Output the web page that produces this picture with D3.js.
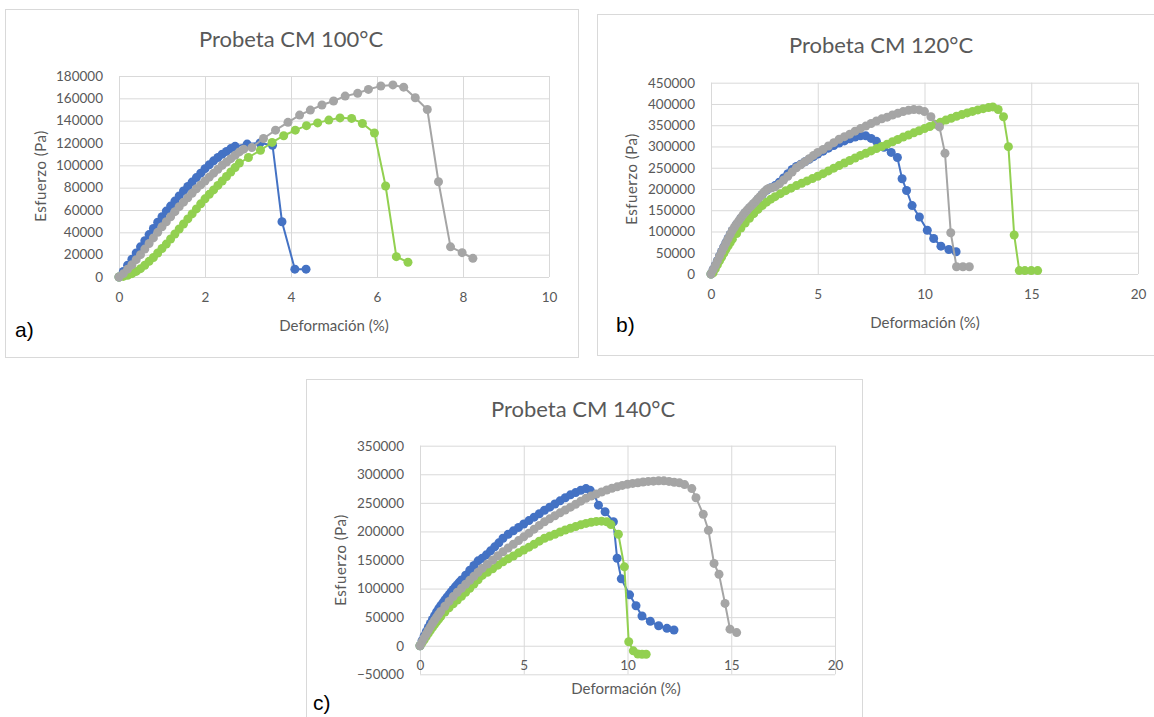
<!DOCTYPE html>
<html>
<head>
<meta charset="utf-8">
<script src="https://cdn.jsdelivr.net/npm/d3@7"></script>
<style>
  body { margin: 0; background: #fff; }
  svg { display: block; }
</style>
</head>
<body>
<svg width="1154" height="717"></svg>
<script>
'use strict';

// tick values
const xTicksA = [0, 2, 4, 6, 8, 10];
const yTicksA = [0, 20000, 40000, 60000, 80000, 100000, 120000, 140000, 160000, 180000];
const xTicksB = [0, 5, 10, 15, 20];
const yTicksB = [0, 50000, 100000, 150000, 200000, 250000, 300000, 350000, 400000, 450000];
const xTicksC = [0, 5, 10, 15, 20];
const yTicksC = [-50000, 0, 50000, 100000, 150000, 200000, 250000, 300000, 350000];

// Probeta CM 100°C  [deformación %, esfuerzo Pa]
const a100Blue = [[0,0],[0.1,5000],[0.2,10500],[0.3,16000],[0.4,21500],[0.5,27000],[0.6,32500],[0.7,38000],
  [0.8,43500],[0.9,49000],[1.0,54000],[1.1,59000],[1.2,63500],[1.3,68000],[1.4,72500],[1.5,77000],[1.6,81000],
  [1.7,85000],[1.8,89000],[1.9,93000],[2.0,97000],[2.1,100500],[2.2,104000],[2.3,107000],[2.4,110000],
  [2.5,112500],[2.6,115000],[2.7,117000],[2.98,119000],[3.28,120000],[3.57,118000],[3.79,49500],[4.09,7000],[4.35,7000]];
const a100Green = [[0,0],[0.1,500],[0.2,1500],[0.3,3000],[0.4,5000],[0.5,7500],[0.6,10500],[0.7,14000],[0.8,17500],
  [0.9,21500],[1.0,25500],[1.1,29500],[1.2,34000],[1.3,38500],[1.4,43000],[1.5,47500],[1.6,52000],[1.7,56500],
  [1.8,61000],[1.9,65500],[2.0,70000],[2.1,74000],[2.2,78000],[2.3,82000],[2.4,86000],[2.5,90000],[2.6,94000],
  [2.7,98000],[2.8,102000],[3.01,107000],[3.29,113500],[3.56,120500],[3.83,126500],[4.1,131500],[4.36,135500],
  [4.62,138000],[4.88,140500],[5.14,142500],[5.41,142000],[5.66,137500],[5.94,129000],[6.2,81500],[6.45,18200],[6.72,13200]];
const a100Gray = [[0,0],[0.1,3000],[0.2,7000],[0.3,11000],[0.4,15500],[0.5,20000],[0.6,25000],[0.7,30000],[0.8,35000],
  [0.9,40000],[1.0,45000],[1.1,49500],[1.2,54000],[1.3,58500],[1.4,63000],[1.5,67000],[1.6,71000],[1.7,75000],
  [1.8,79000],[1.9,82500],[2.0,86000],[2.1,89500],[2.2,93000],[2.3,96500],[2.4,100000],[2.5,103000],[2.6,106000],
  [2.7,109000],[2.8,112000],[2.9,114500],[3.09,116000],[3.36,124000],[3.64,131500],[3.93,138500],[4.2,145000],
  [4.45,149500],[4.72,154000],[4.99,157600],[5.26,162000],[5.55,164500],[5.8,168000],[6.09,171000],[6.37,172000],
  [6.62,170000],[6.89,160500],[7.17,150000],[7.43,85300],[7.71,27000],[7.98,21800],[8.23,16700]];

// Probeta CM 120°C
const b120Blue = [[0,0],[0.1,10000],[0.2,20500],[0.3,31500],[0.4,42500],[0.5,53000],[0.6,63500],[0.7,73500],
  [0.8,83500],[0.9,93000],[1.0,102500],[1.2,117000],[1.4,131000],[1.6,144000],[1.8,155000],[2.0,165000],
  [2.2,176000],[2.4,187000],[2.6,197000],[2.8,203000],[3.0,208000],[3.2,216000],[3.4,226000],[3.6,236000],
  [3.8,246000],[4.0,253000],[4.2,258000],[4.4,264000],[4.6,270000],[4.8,276000],[5.0,282000],[5.25,289000],
  [5.5,296000],[5.75,302000],[6.0,308000],[6.25,313000],[6.5,318000],[6.75,322000],[7.0,325000],[7.25,325000],
  [7.5,319000],[7.75,312000],[8.1,298000],[8.44,286000],[8.73,274000],[8.95,224000],[9.16,196500],[9.42,161000],
  [9.76,134000],[10.13,103000],[10.43,83400],[10.77,65500],[11.14,57700],[11.48,52300]];
const b120Green = [[0,0],[0.1,3000],[0.2,12000],[0.3,21500],[0.4,31000],[0.5,40000],[0.6,49000],[0.7,58000],
  [0.8,66000],[0.9,74000],[1.0,82000],[1.2,95000],[1.4,108000],[1.6,120000],[1.8,131000],[2.0,142000],
  [2.2,152000],[2.4,161000],[2.6,169000],[2.8,176000],[3.0,182000],[3.25,189000],[3.5,196000],[3.75,202000],
  [4.0,208000],[4.25,213500],[4.5,219000],[4.75,224500],[5.0,230000],[5.25,236000],[5.5,242500],[5.75,249000],
  [6.0,255000],[6.25,261000],[6.5,267000],[6.75,273000],[7.0,279000],[7.25,284000],[7.5,289500],[7.75,295000],
  [8.0,300000],[8.25,305500],[8.5,311000],[8.75,316500],[9.0,322000],[9.25,327000],[9.5,332000],[9.75,337000],
  [10.0,342000],[10.25,347000],[10.5,352000],[10.75,357000],[11.0,362000],[11.25,366500],[11.5,371000],
  [11.75,375000],[12.0,379000],[12.25,382500],[12.5,386000],[12.75,389000],[13.0,391500],[13.2,393000],
  [13.45,387000],[13.7,370000],[13.93,299500],[14.2,91700],[14.44,8000],[14.7,8000],[15.0,8000],[15.3,8000]];
const b120Gray = [[0,0],[0.1,10000],[0.2,20000],[0.3,31000],[0.4,42000],[0.5,52500],[0.6,63000],[0.7,73000],
  [0.8,83000],[0.9,93000],[1.0,103000],[1.1,110500],[1.2,118000],[1.3,125000],[1.4,132000],[1.5,139000],
  [1.6,145000],[1.7,150500],[1.8,156000],[1.9,161000],[2.0,166000],[2.1,171500],[2.2,177000],[2.3,182500],
  [2.4,188000],[2.5,193500],[2.6,198000],[2.7,201000],[2.85,203000],[3.0,205000],[3.2,212000],[3.4,221000],
  [3.6,230000],[3.8,240000],[4.0,250000],[4.2,257000],[4.4,264000],[4.6,271000],[4.8,279000],[5.0,286000],
  [5.25,293000],[5.5,301000],[5.75,309000],[6.0,317000],[6.25,323000],[6.5,329000],[6.75,336000],[7.0,342000],
  [7.25,348000],[7.5,354000],[7.75,360000],[8.0,365000],[8.25,369000],[8.5,374000],[8.75,378000],[9.0,382000],
  [9.25,385000],[9.5,387000],[9.75,386000],[10.0,382000],[10.3,370000],[10.7,346000],[10.96,284000],
  [11.23,97000],[11.5,17000],[11.8,17000],[12.1,17000]];

// Probeta CM 140°C
const c140Blue = [[0,0],[0.1,9000],[0.2,17000],[0.3,24500],[0.4,32000],[0.5,39000],[0.6,46000],[0.7,52500],
  [0.8,59000],[0.9,65000],[1.0,70000],[1.1,75000],[1.2,80000],[1.3,85000],[1.4,89500],[1.5,94000],[1.6,98500],
  [1.7,103000],[1.8,107000],[1.9,111000],[2.0,115000],[2.2,123500],[2.4,132000],[2.6,140500],[2.8,148500],
  [3.0,153000],[3.2,159000],[3.4,166000],[3.6,173000],[3.8,180000],[4.0,188000],[4.25,195000],[4.5,201000],
  [4.75,207000],[5.0,213000],[5.25,219000],[5.5,225000],[5.75,231000],[6.0,237000],[6.25,242500],[6.5,248000],
  [6.75,253500],[7.0,259000],[7.25,264000],[7.5,268000],[7.75,272000],[8.0,275000],[8.2,272000],[8.4,265000],
  [8.6,246000],[8.92,234500],[9.32,217000],[9.5,153000],[9.7,117000],[10.1,89000],[10.41,70000],[10.7,52000],
  [11.1,42700],[11.5,35000],[11.9,30400],[12.24,27500]];
const c140Green = [[0,0],[0.1,5000],[0.2,10500],[0.3,16000],[0.4,21500],[0.5,27000],[0.6,32000],[0.7,37000],
  [0.8,42000],[0.9,46500],[1.0,51000],[1.2,59000],[1.4,66500],[1.6,73500],[1.8,80000],[2.0,86500],[2.2,93500],
  [2.4,100500],[2.6,108000],[2.8,115500],[3.0,123000],[3.25,128500],[3.5,134500],[3.75,141000],[4.0,147000],
  [4.25,152000],[4.5,157000],[4.75,162500],[5.0,167500],[5.25,172500],[5.5,177500],[5.75,183000],[6.0,188000],
  [6.25,191500],[6.5,195000],[6.75,199000],[7.0,202500],[7.25,205500],[7.5,208500],[7.75,211500],[8.0,214000],
  [8.25,216000],[8.5,217500],[8.75,218000],[9.0,217000],[9.2,212000],[9.56,195000],[9.85,138000],[10.06,7000],
  [10.28,-9000],[10.5,-14500],[10.7,-15000],[10.9,-15000]];
const c140Gray = [[0,0],[0.1,7000],[0.2,14000],[0.3,20500],[0.4,27000],[0.5,33000],[0.6,39000],[0.7,44500],
  [0.8,50000],[0.9,55000],[1.0,60000],[1.2,69000],[1.4,77500],[1.6,86000],[1.8,93500],[2.0,100500],[2.2,107500],
  [2.4,114500],[2.6,121500],[2.8,128500],[3.0,135500],[3.25,143000],[3.5,150000],[3.75,157500],[4.0,164500],
  [4.25,171000],[4.5,177500],[4.75,184000],[5.0,190500],[5.25,197000],[5.5,204000],[5.75,210500],[6.0,217000],
  [6.25,222000],[6.5,227500],[6.75,232500],[7.0,237500],[7.25,242500],[7.5,247500],[7.75,253000],[8.0,258000],
  [8.25,262000],[8.5,265500],[8.75,269000],[9.0,272500],[9.25,275500],[9.5,278000],[9.75,280500],[10.0,282500],
  [10.25,284000],[10.5,285000],[10.75,286500],[11.0,287500],[11.25,288000],[11.5,288500],[11.75,288500],
  [12.0,287500],[12.25,286000],[12.5,285000],[12.75,282000],[13.1,275000],[13.3,259000],[13.65,230000],
  [13.9,202000],[14.17,144000],[14.41,125000],[14.7,74000],[14.94,29000],[15.26,23000]];

const BLUE = '#4472C4';
const GREEN = '#92D050';
const GRAY = '#A5A5A5';
const GRID = '#D9D9D9';
const TEXT = '#595959';
const FONT = 'Lato, "Open Sans", sans-serif';

const panels = [
  {
    box: [5, 9, 578, 357], plot: { left: 119, right: 549, top: 76, bottom: 277 },
    xDomain: [0, 10], yDomain: [0, 180000], xTicks: xTicksA, yTicks: yTicksA,
    title: 'Probeta CM 100°C', titleX: 291, titleY: 47,
    tag: 'a)', tagX: 15, tagY: 330,
    xTitleX: 334, xTitleY: 326, yTitleX: 41, yTitleY: 176,
    series: [[a100Blue, BLUE], [a100Green, GREEN], [a100Gray, GRAY]]
  },
  {
    box: [597, 14, 1170, 355], plot: { left: 711, right: 1138, top: 82.7, bottom: 274 },
    xDomain: [0, 20], yDomain: [0, 450000], xTicks: xTicksB, yTicks: yTicksB,
    title: 'Probeta CM 120°C', titleX: 881, titleY: 53,
    tag: 'b)', tagX: 616, tagY: 325,
    xTitleX: 925, xTitleY: 323, yTitleX: 632, yTitleY: 179,
    series: [[b120Blue, BLUE], [b120Green, GREEN], [b120Gray, GRAY]]
  },
  {
    box: [306, 379, 862, 730], plot: { left: 420, right: 835, top: 445.7, bottom: 674.3 },
    xDomain: [0, 20], yDomain: [-50000, 350000], xTicks: xTicksC, yTicks: yTicksC,
    title: 'Probeta CM 140°C', titleX: 583, titleY: 417,
    tag: 'c)', tagX: 313, tagY: 703,
    xTitleX: 626, xTitleY: 689, yTitleX: 341, yTitleY: 560,
    series: [[c140Blue, BLUE], [c140Green, GREEN], [c140Gray, GRAY]]
  }
];

const svg = d3.select('svg');
svg.append('rect').attr('width', 1154).attr('height', 717).attr('fill', '#fff');

for (const p of panels) {
  const g = svg.append('g');
  const [bx0, by0, bx1, by1] = p.box;
  g.append('rect')
    .attr('x', bx0 + 0.5).attr('y', by0 + 0.5)
    .attr('width', bx1 - bx0).attr('height', by1 - by0)
    .attr('fill', '#fff').attr('stroke', GRID);

  const x = d3.scaleLinear().domain(p.xDomain).range([p.plot.left, p.plot.right]);
  const y = d3.scaleLinear().domain(p.yDomain).range([p.plot.bottom, p.plot.top]);
  const plotW = p.plot.right - p.plot.left;
  const plotH = p.plot.bottom - p.plot.top;

  // horizontal gridlines + y labels
  const yAxis = g.append('g')
    .attr('transform', `translate(${p.plot.left},0)`)
    .call(d3.axisLeft(y).tickValues(p.yTicks).tickSize(-plotW).tickPadding(16).tickFormat(d3.format('d')));
  // vertical gridlines
  const xGrid = g.append('g')
    .attr('transform', `translate(0,${p.plot.bottom})`)
    .call(d3.axisBottom(x).tickValues(p.xTicks).tickSize(-plotH).tickFormat(''));
  // x labels next to the zero line
  const xAxis = g.append('g')
    .attr('transform', `translate(0,${y(0)})`)
    .call(d3.axisBottom(x).tickValues(p.xTicks).tickSize(0).tickFormat(d3.format('d')));

  for (const a of [yAxis, xGrid, xAxis]) {
    a.select('.domain').remove();
    a.selectAll('line').attr('stroke', GRID).attr('stroke-width', 1);
    a.selectAll('text')
      .attr('fill', TEXT)
      .style('font-family', FONT)
      .style('font-size', '13.5px');
  }
  xAxis.selectAll('text').attr('y', 20).attr('dy', '0.35em');

  const line = d3.line().x(d => x(d[0])).y(d => y(d[1]));
  for (const [data, color] of p.series) {
    const s = g.append('g');
    s.append('path')
      .datum(data)
      .attr('d', line)
      .attr('fill', 'none')
      .attr('stroke', color)
      .attr('stroke-width', 2);
    s.selectAll('circle')
      .data(data)
      .enter().append('circle')
        .attr('cx', d => x(d[0]))
        .attr('cy', d => y(d[1]))
        .attr('r', 4.5)
        .attr('fill', color);
  }

  g.append('text')
    .attr('x', p.titleX).attr('y', p.titleY)
    .attr('text-anchor', 'middle')
    .attr('fill', TEXT)
    .style('font-family', FONT).style('font-size', '22px')
    .text(p.title);

  g.append('text')
    .attr('x', p.xTitleX).attr('y', p.xTitleY)
    .attr('text-anchor', 'middle').attr('dy', '0.35em')
    .attr('fill', TEXT)
    .style('font-family', FONT).style('font-size', '15px')
    .text('Deformación (%)');

  g.append('text')
    .attr('transform', `translate(${p.yTitleX},${p.yTitleY}) rotate(-90)`)
    .attr('text-anchor', 'middle').attr('dy', '0.35em')
    .attr('fill', TEXT)
    .style('font-family', FONT).style('font-size', '15px')
    .style('letter-spacing', '0.5px')
    .text('Esfuerzo (Pa)');

  g.append('text')
    .attr('x', p.tagX).attr('y', p.tagY)
    .attr('dy', '0.35em')
    .attr('fill', '#000')
    .style('font-family', '"Liberation Sans", Arial, sans-serif').style('font-size', '21px')
    .text(p.tag);
}
</script>
</body>
</html>
